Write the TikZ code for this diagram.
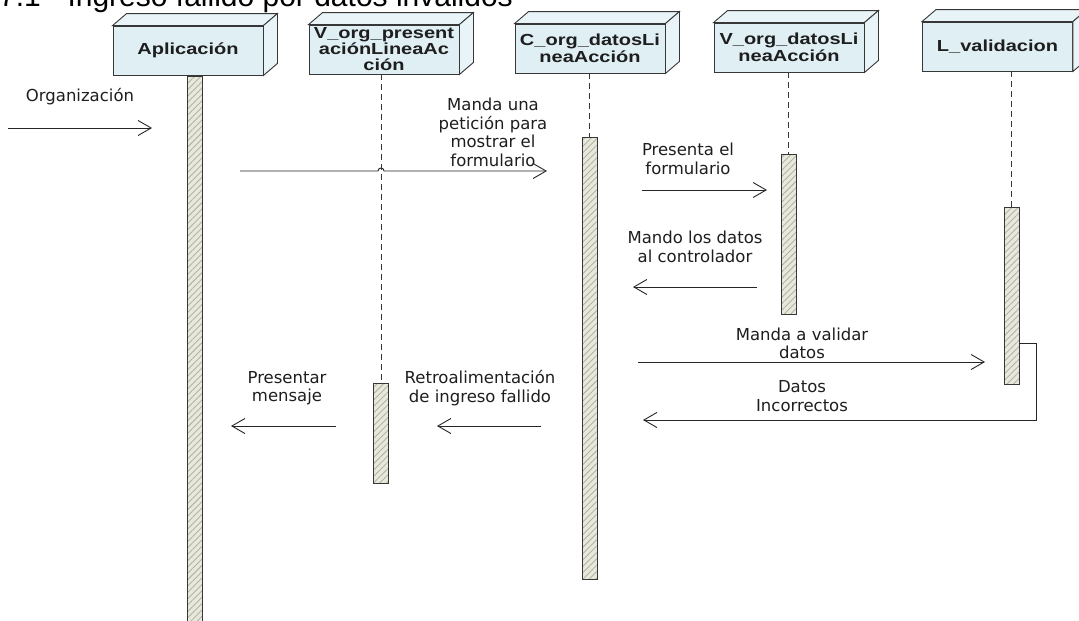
\documentclass[tikz,border=0pt]{standalone}
\usepackage{fontspec}
\setmainfont{DejaVu Sans}
\newfontfamily\boxfont[FakeStretch=1.25]{Liberation Sans}
\newfontfamily\titlefont{Liberation Sans}
\usetikzlibrary{arrows.meta,patterns.meta}
\definecolor{boxfill}{RGB}{223,239,244}
\definecolor{boxside}{RGB}{232,244,247}
\definecolor{edge}{RGB}{55,55,55}
\definecolor{barfill}{RGB}{232,232,220}
\definecolor{hatch}{RGB}{180,180,165}
\definecolor{txt}{RGB}{30,30,30}
\tikzset{
  x=1pt, y=-1pt,
  objbox/.style={draw=edge, line width=0.9pt, fill=boxfill, minimum width=150pt, minimum height=49pt,
     inner sep=0pt, align=center, font=\boxfont\bfseries\fontsize{16}{17}\selectfont, text=txt},
  face/.style={draw=edge, line width=0.9pt, fill=boxside},
  bar/.style={draw=edge, line width=0.9pt, minimum width=15pt, inner sep=0pt,
     preaction={fill=barfill}, pattern={Lines[angle=45,distance=4.5pt,line width=0.9pt]}, pattern color=hatch},
  lifeline/.style={draw=edge, line width=0.9pt, dash pattern=on 6pt off 4pt},
  msg/.style={draw=black!85, line width=0.9pt, -{Straight Barb[length=13pt,width=15pt,line width=0.9pt]}},
  lbl/.style={inner sep=0pt, align=center, text=txt, font=\fontsize{16.5}{18.5}\selectfont},
}
\newcommand{\threed}[1]{%
  \path[face] (#1.north west) -- ++(14,-12) -- ([shift={(14,-12)}]#1.north east) -- (#1.north east) -- cycle;
  \path[face] (#1.north east) -- ++(14,-12) -- ([shift={(14,-12)}]#1.south east) -- (#1.south east) -- cycle;
}
\begin{document}
\begin{tikzpicture}
\useasboundingbox (0,0) rectangle (1079,621);
\clip (0,0) rectangle (1079,621);
\fill[white] (0,0) rectangle (1079,621);

% title (cut off at the top, as in the reference)
\node[anchor=base west, inner sep=0pt, text=black] (title) at (-1,6)
  {\titlefont\fontsize{30}{34}\selectfont 7.1 - Ingreso fallido por datos inválidos};

% objects
\node[objbox] (box1) at (188,50.5) {Aplicación};
\node[objbox] (box2) at (384,49.5) {V\_org\_present\\[-1pt]aciónLineaAc\\[-1pt]ción};
\node[objbox] (box3) at (590,48.5) {C\_org\_datosLi\\neaAcción};
\node[objbox] (box4) at (789,47.5) {V\_org\_datosLi\\neaAcción};
\node[objbox] (box5) at (997.5,46.5) {L\_validacion};
\threed{box1}\threed{box2}\threed{box3}\threed{box4}\threed{box5}

% activation bars
\node[bar, minimum height=556pt] (bar1) at (195,354) {};
\node[bar, minimum height=100pt] (bar2) at (381,433) {};
\node[bar, minimum height=442pt] (bar3) at (589.5,358) {};
\node[bar, minimum height=160pt] (bar4) at (788.5,234) {};
\node[bar, minimum height=177pt] (bar5) at (1011.5,295.5) {};

% lifelines
\draw[lifeline] (bar2.north |- box2.south) -- (bar2.north);
\draw[lifeline] (bar3.north |- box3.south) -- (bar3.north);
\draw[lifeline] (bar4.north |- box4.south) -- (bar4.north);
\draw[lifeline] (bar5.north |- box5.south) -- (bar5.north);

% message 1
\coordinate (m1s) at (8,128);
\coordinate (m1e) at (152,128);
\draw[msg] (m1s) -- (m1e);
\node[lbl] (l1) at (80,97) {Organización};

% message 2 (with hop over lifeline 2)
\coordinate (m2s) at (240,171);
\coordinate (m2e) at (547,171);
\coordinate (hop) at (bar2.north |- m2s);
\draw[msg] (m2s) -- ([xshift=-3pt]hop) arc[start angle=180, end angle=0, radius=3pt] -- (m2e);
\node[lbl] (l2) at (493,132.5) {Manda una\\petición para\\mostrar el\\formulario};

% message 3
\coordinate (m3s) at (642,190);
\coordinate (m3e) at (767,190);
\draw[msg] (m3s) -- (m3e);
\node[lbl] (l3) at (688,159) {Presenta el\\formulario};

% message 4
\coordinate (m4s) at (757,287);
\coordinate (m4e) at (633,287);
\draw[msg] (m4s) -- (m4e);
\node[lbl] (l4) at (695,247) {Mando los datos\\al controlador};

% message 5
\coordinate (m5s) at (638,362);
\coordinate (m5e) at (985,362);
\draw[msg] (m5s) -- (m5e);
\node[lbl] (l5) at (802,343.5) {Manda a validar\\datos};

% message 6 (return)
\coordinate (m6a) at (1036,343);
\coordinate (m6b) at (1036,420);
\coordinate (m6e) at (643,420);
\draw[msg] (bar5.east |- m6a) -- (m6a) -- (m6b) -- (m6e);
\node[lbl] (l6) at (802,396) {Datos\\Incorrectos};

% message 7
\coordinate (m7s) at (541,426);
\coordinate (m7e) at (437,426);
\draw[msg] (m7s) -- (m7e);
\node[lbl] (l7) at (480,388) {Retroalimentación\\de ingreso fallido};

% message 8
\coordinate (m8s) at (336,426);
\coordinate (m8e) at (231,426);
\draw[msg] (m8s) -- (m8e);
\node[lbl] (l8) at (287,388) {Presentar\\mensaje};
\end{tikzpicture}
\end{document}
